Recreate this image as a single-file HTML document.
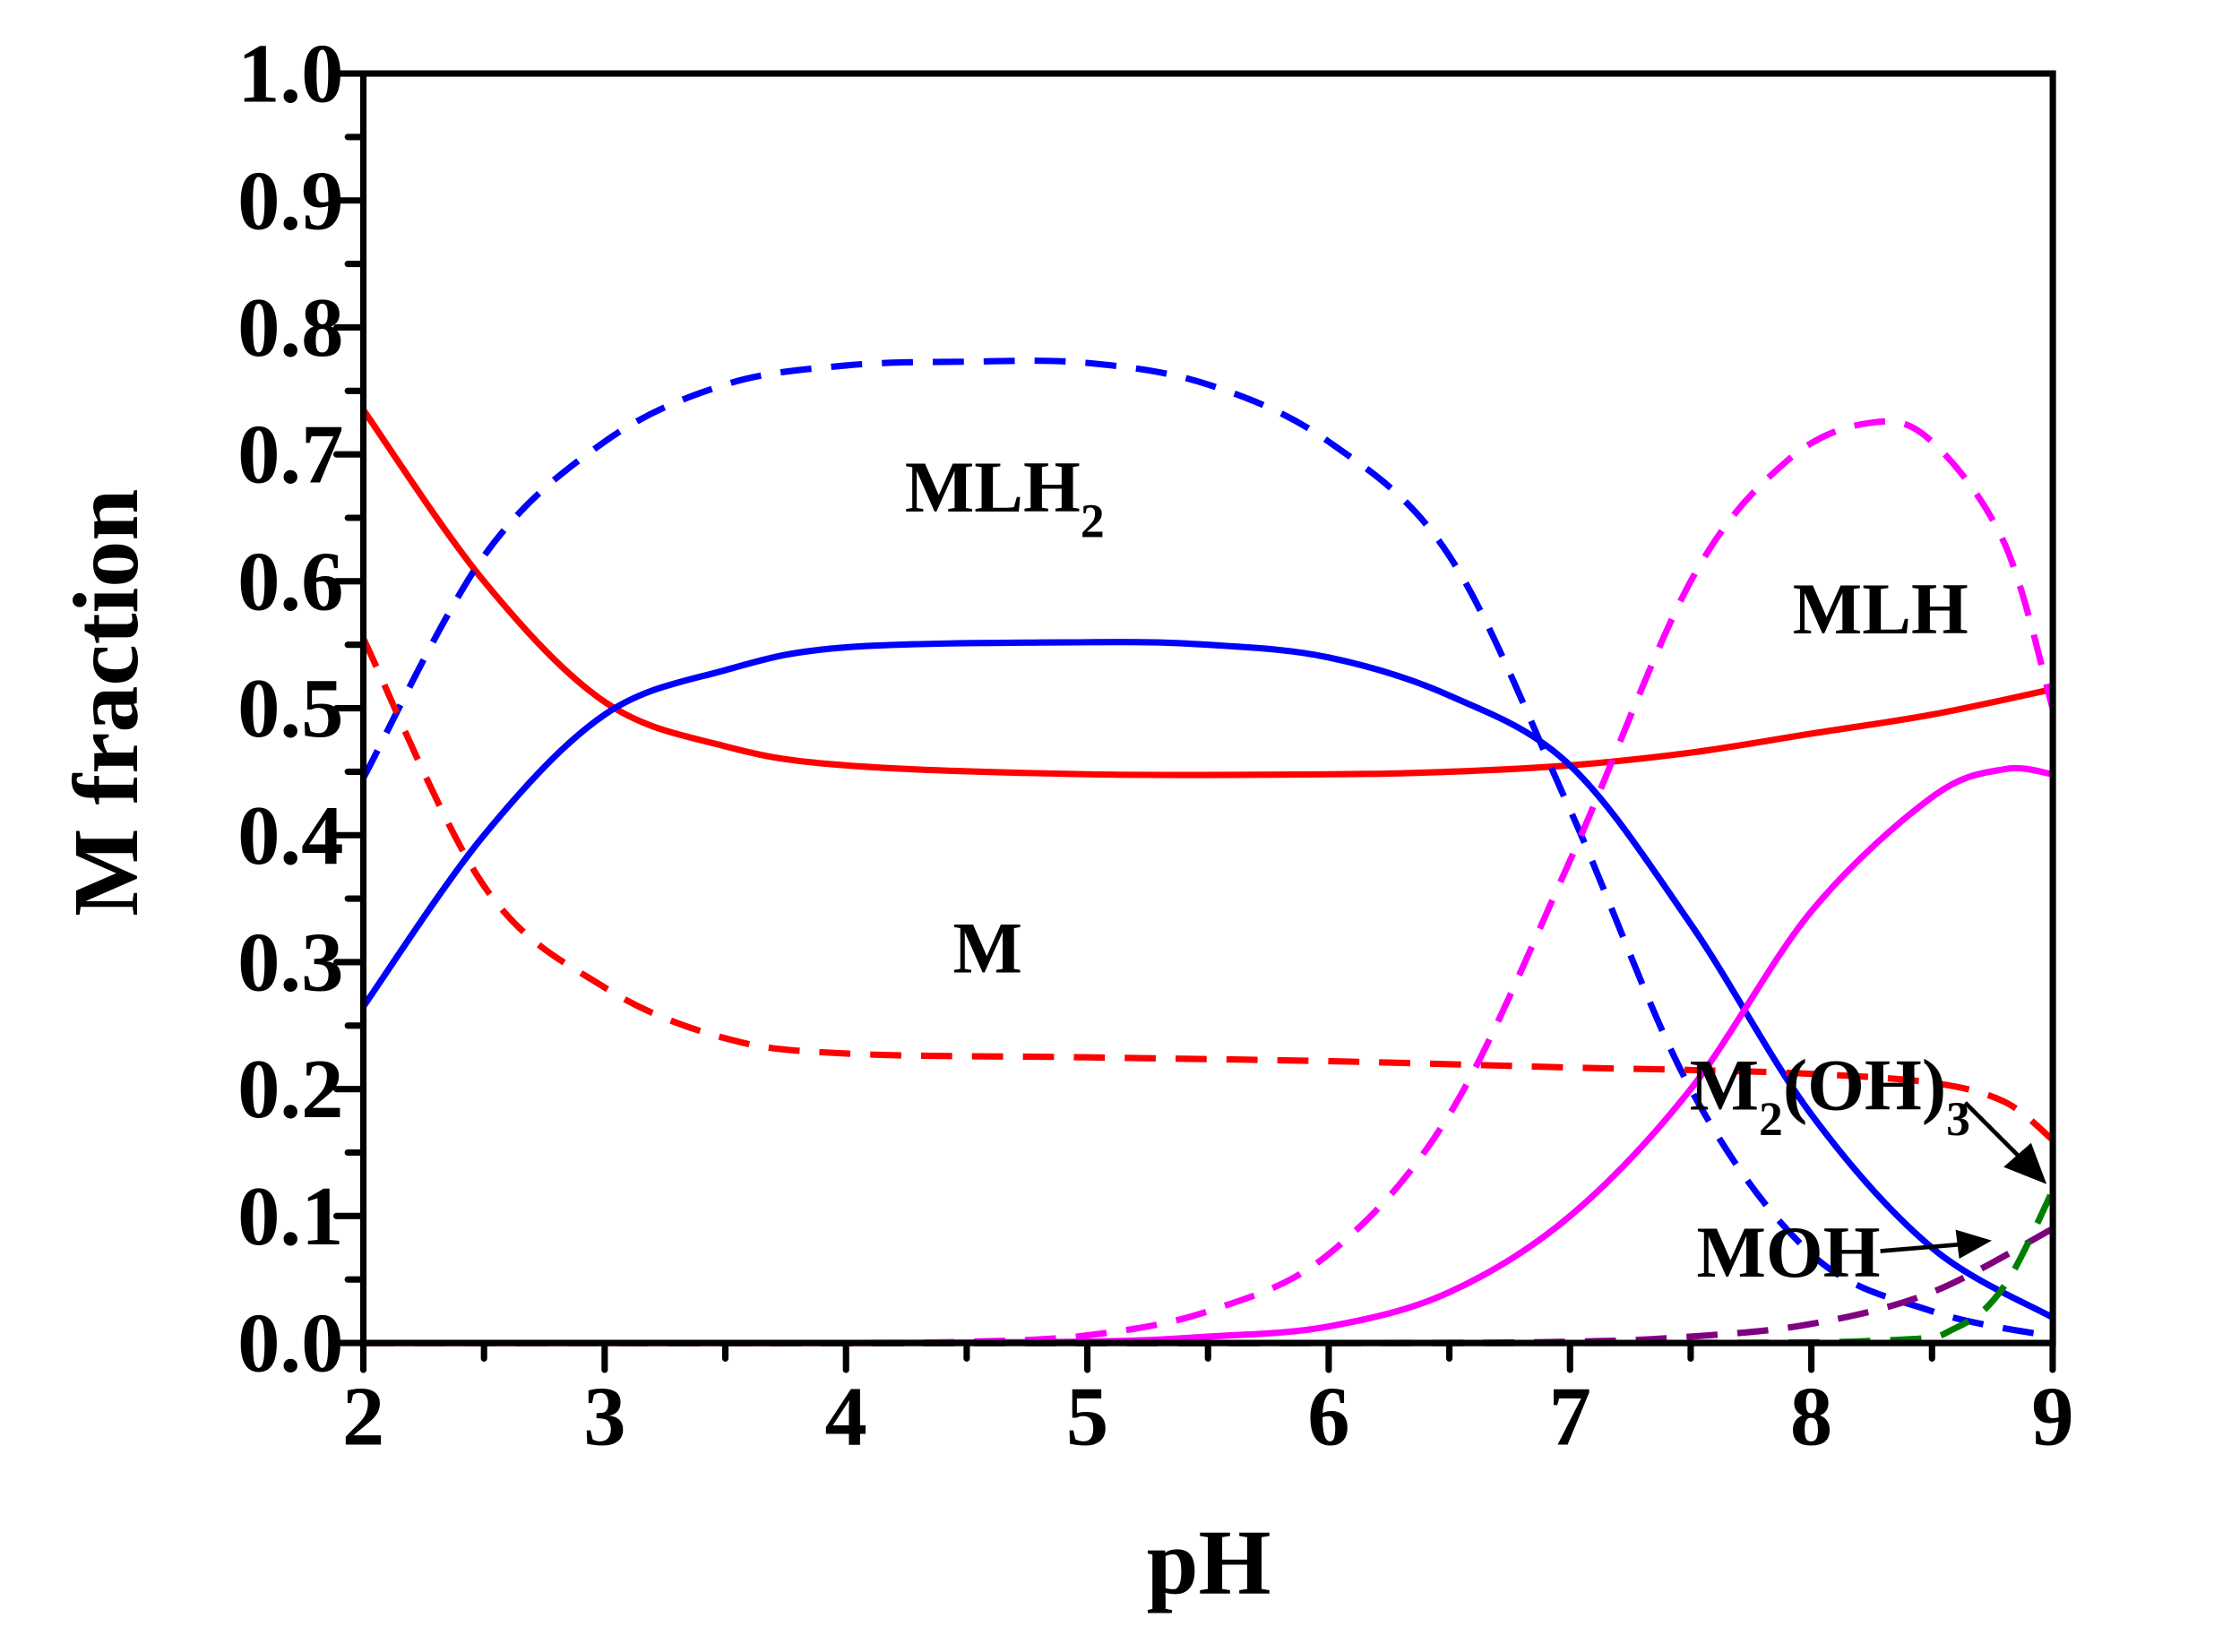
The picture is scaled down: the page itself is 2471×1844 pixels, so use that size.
<!DOCTYPE html>
<html><head><meta charset="utf-8"><style>html,body{margin:0;padding:0;background:#fff}svg{display:block}</style></head>
<body>
<svg id="s" width="2471" height="1844" viewBox="0 0 1566 1168.6" preserveAspectRatio="none" xmlns="http://www.w3.org/2000/svg" font-family="Liberation Serif, serif" font-weight="bold">
<g id="curves" fill="none" stroke-width="4.5"></g>
<g id="axes" stroke="#000" stroke-width="4.5" stroke-linecap="round"></g>
<g id="labs" font-size="60" fill="#000"></g>
<text x="855" y="1127" font-size="66" text-anchor="middle">pH</text>
<text transform="translate(97,497) rotate(-90)" font-size="66" text-anchor="middle">M fraction</text>
<g font-size="52" fill="#000">
<text x="640" y="362">MLH<tspan font-size="34" dy="18">2</tspan></text>
<text x="674" y="688">M</text>
<text x="1268" y="448">MLH</text>
<text x="1195" y="785">M<tspan font-size="34" dy="18">2</tspan><tspan dy="-18">(OH)</tspan><tspan font-size="34" dy="18">3</tspan></text>
<text x="1200" y="903">MOH</text>
</g>
<g stroke="#000" stroke-width="3" fill="#000">
<line x1="1390" y1="780" x2="1432" y2="822"/>
<polygon points="1445,835 1420,825 1436,811"/>
<line x1="1330" y1="885" x2="1390" y2="880"/>
<polygon points="1405,878 1385,872 1387,888"/>
</g>
</svg>
<script>
const X=p=>257+(p-2)*170.7, Y=f=>950-f*898;
function path(pts){const P=pts.map(([a,b])=>[X(a),Y(b)]);let d=`M${P[0][0]},${P[0][1]}`;
for(let i=0;i<P.length-1;i++){const p0=P[i-1]||P[i],p1=P[i],p2=P[i+1],p3=P[i+2]||p2;
d+=` C${p1[0]+(p2[0]-p0[0])/6},${p1[1]+(p2[1]-p0[1])/6} ${p2[0]-(p3[0]-p1[0])/6},${p2[1]-(p3[1]-p1[1])/6} ${p2[0]},${p2[1]}`;}return d;}
const S=[
["#ff0000",0,[[2,.735],[2.5,.6],[3,.505],[3.5,.47],[4,.455],[5,.448],[6,.448],[6.5,.45],[7,.455],[7.5,.465],[8,.48],[8.5,.495],[9,.515]]],
["#0000ff",0,[[2,.265],[2.5,.4],[3,.495],[3.5,.53],[4,.548],[5,.552],[5.5,.55],[6,.54],[6.5,.51],[7,.455],[7.5,.33],[8,.18],[8.5,.075],[9,.02]]],
["#0000ff",1,[[2,.445],[2.5,.62],[3,.71],[3.5,.755],[4,.77],[4.5,.773],[5,.772],[5.5,.755],[6,.71],[6.5,.62],[7,.42],[7.5,.2],[8,.07],[8.5,.025],[9,.005]]],
["#ff0000",1,[[2,.555],[2.5,.36],[3,.28],[3.5,.24],[4,.228],[5,.225],[6,.222],[7,.217],[7.5,.215],[8,.212],[8.5,.205],[8.8,.19],[9,.16]]],
["#ff00ff",1,[[2,0],[3,0],[4,0],[4.5,.001],[5,.006],[5.5,.025],[6,.07],[6.5,.18],[7,.38],[7.5,.6],[7.9,.695],[8.25,.725],[8.5,.71],[8.8,.63],[9,.5]]],
["#ff00ff",0,[[2,0],[3,0],[4,0],[5,.001],[5.5,.005],[6,.013],[6.5,.04],[7,.1],[7.5,.2],[8,.34],[8.5,.43],[8.8,.452],[9,.448]]],
["#800080",1,[[2,0],[6,0],[7,.001],[7.5,.005],[8,.015],[8.5,.04],[9,.09]]],
["#008000",1,[[2,0],[7,0],[8.3,.002],[8.6,.012],[8.8,.045],[9,.12]]],
["#ff0000",0,[[2,0],[9,0]]]];
let h='';for(const [c,d,p] of S)h+=`<path d="${path(p)}" stroke="${c}" ${d?'stroke-dasharray="22 14"':''}/>`;
document.getElementById('curves').innerHTML=h;
let a=`<rect x="257" y="52" width="1195" height="898" fill="none"/>`,l='';
for(let i=0;i<=20;i++){const y=Y(i/20),L=i%2?11:19;a+=`<line x1="${257-L}" y1="${y}" x2="257" y2="${y}"/>`;
if(i%2==0)l+=`<text x="243" y="${y+20}" text-anchor="end">${(i/20).toFixed(1)}</text>`;}
for(let i=0;i<=14;i++){const x=X(2+i/2),L=i%2?11:19;a+=`<line x1="${x}" y1="950" x2="${x}" y2="${950+L}"/>`;
if(i%2==0)l+=`<text x="${x}" y="1022" text-anchor="middle">${2+i/2}</text>`;}
document.getElementById('axes').innerHTML=a;document.getElementById('labs').innerHTML=l;
</script>
</body></html>
